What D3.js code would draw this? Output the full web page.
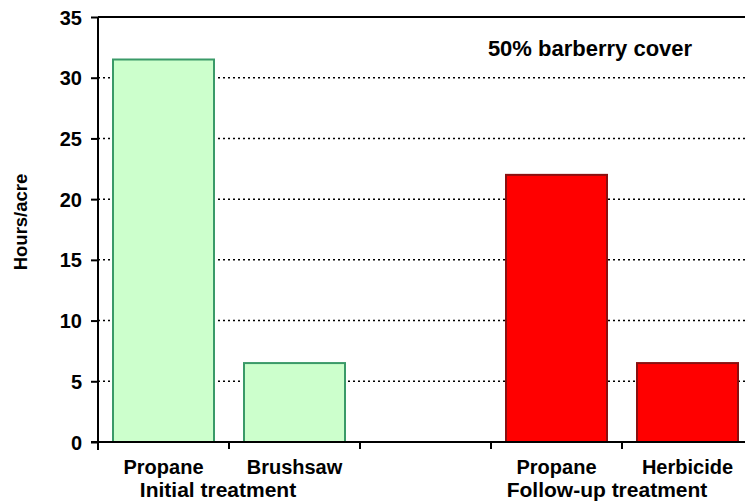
<!DOCTYPE html>
<html>
<head>
<meta charset="utf-8">
<script src="https://cdn.jsdelivr.net/npm/d3@7"></script>
<style>
  html, body { margin: 0; padding: 0; background: #fff; }
  svg { display: block; font-family: Arial, "Liberation Sans", sans-serif; }
</style>
</head>
<body>
<svg id="chart" width="745" height="502"></svg>
<script>
// Treatment categories (blank slot separates the two groups)
const categories = ["Propane", "Brushsaw", "", "Propane ", "Herbicide"];
const hours = [31.5, 6.5, null, 22, 6.5];
const phase = ["initial", "initial", null, "followup", "followup"];
const groups = [
  { label: "Initial treatment", span: ["Propane", "Brushsaw"], shift: -11 },
  { label: "Follow-up treatment", span: ["Propane ", "Herbicide"], shift: -15 }
];
const yTicks = [0, 5, 10, 15, 20, 25, 30, 35];
const yTitle = "Hours/acre";
const note = "50% barberry cover";

const fills = { initial: "#CCFFCC", followup: "#FF0000" };
const strokes = { initial: "#3A9A68", followup: "#8A1010" };

const svg = d3.select("#chart");
const m = { left: 98, top: 17, right: 753, bottom: 442 };
const FONT = "Arial, 'Liberation Sans', sans-serif";

const x = d3.scaleBand().domain(categories).range([m.left, m.right]).paddingInner(0).paddingOuter(0);
const y = d3.scaleLinear().domain([0, 35]).range([m.bottom, m.top]);

// Gridlines: dotted, top one solid
svg.append("g").selectAll("line").data(yTicks.filter(t => t > 0)).join("line")
  .attr("x1", m.left).attr("x2", m.right)
  .attr("y1", d => y(d)).attr("y2", d => y(d))
  .attr("stroke", "#000")
  .attr("stroke-width", d => d === 35 ? 2 : 1.5)
  .attr("stroke-dasharray", d => d === 35 ? null : "2,3");

// Bars
const barPad = 15;
svg.append("g").selectAll("rect").data(categories.map((c, i) => ({ c, v: hours[i], p: phase[i] })).filter(d => d.v != null))
  .join("rect")
  .attr("x", d => x(d.c) + barPad)
  .attr("width", x.bandwidth() - 2 * barPad)
  .attr("y", d => y(d.v))
  .attr("height", d => y(0) - y(d.v))
  .attr("fill", d => fills[d.p])
  .attr("stroke", d => strokes[d.p])
  .attr("stroke-width", 2);

// Y axis
const yAxis = svg.append("g").attr("transform", `translate(${m.left},0)`)
  .call(d3.axisLeft(y).tickValues(yTicks).tickSize(7).tickPadding(9).tickSizeOuter(0));
yAxis.select(".domain").attr("stroke-width", 2).attr("d", `M0,${m.top}V${m.bottom + 8}`);
yAxis.selectAll(".tick line").attr("stroke-width", 2);
yAxis.selectAll("text").attr("font-size", 20).attr("font-weight", "bold").attr("fill", "#000")
  .attr("font-family", FONT).attr("dy", "0.35em");

// X axis: ticks at band boundaries
const bounds = categories.map(c => x(c));
const xg = svg.append("g");
xg.append("line").attr("x1", m.left - 7).attr("x2", m.right).attr("y1", m.bottom).attr("y2", m.bottom)
  .attr("stroke", "#000").attr("stroke-width", 2);
xg.selectAll("line.t").data(bounds).join("line").attr("class", "t")
  .attr("x1", d => d).attr("x2", d => d).attr("y1", m.bottom).attr("y2", m.bottom + 7)
  .attr("stroke", "#000").attr("stroke-width", 2);

// Category labels
svg.append("g").selectAll("text").data(categories.filter(c => c.trim() !== "")).join("text")
  .attr("x", d => x(d) + x.bandwidth() / 2)
  .attr("y", 474)
  .attr("text-anchor", "middle")
  .attr("font-size", 20).attr("font-weight", "bold")
  .text(d => d.trim());

// Group labels
svg.append("g").selectAll("text").data(groups).join("text")
  .attr("x", d => (x(d.span[0]) + x(d.span[1]) + x.bandwidth()) / 2 + d.shift)
  .attr("y", 497)
  .attr("text-anchor", "middle")
  .attr("font-size", 21).attr("font-weight", "bold")
  .text(d => d.label);

// Y title
svg.append("text")
  .attr("transform", "translate(27,222) rotate(-90)")
  .attr("text-anchor", "middle")
  .attr("font-size", 18.5).attr("font-weight", "bold")
  .text(yTitle);

// Annotation
svg.append("text")
  .attr("x", 590).attr("y", 56)
  .attr("text-anchor", "middle")
  .attr("font-size", 22).attr("font-weight", "bold")
  .text(note);
</script>
</body>
</html>
